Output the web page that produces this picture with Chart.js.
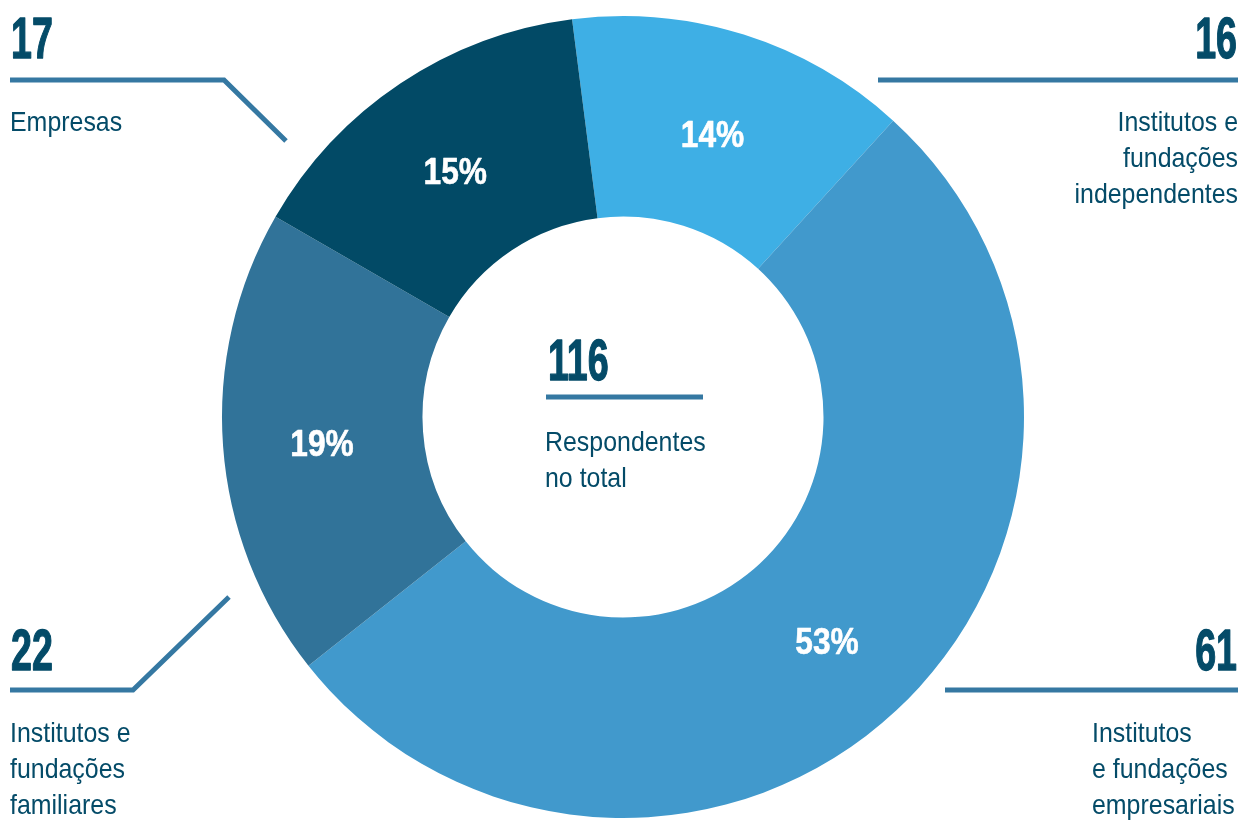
<!DOCTYPE html>
<html lang="pt">
<head>
  <meta charset="UTF-8">
  <title>Respondentes por tipo</title>
  <script src="https://cdn.jsdelivr.net/npm/chart.js"></script>
  <style>
    body { margin: 0; background: #fff; }
    #wrap { width: 1242px; height: 821px; position: relative; }
  </style>
</head>
<body>
  <div id="wrap"><canvas id="donut"></canvas></div>
  <script>
    // dados
    const categories = ['Institutos e fundações independentes', 'Institutos e fundações empresariais', 'Institutos e fundações familiares', 'Empresas'];
    const counts = [16, 61, 22, 17];
    const labelLines = [
      ['Institutos e', 'fundações', 'independentes'],
      ['Institutos', 'e fundações', 'empresariais'],
      ['Institutos e', 'fundações', 'familiares'],
      ['Empresas']
    ];
    const colors = ['#3eafe5', '#4199cc', '#317399', '#024a66'];
    const totalLabel = ['Respondentes', 'no total'];

    const total = counts.reduce((a, b) => a + b, 0);
    const dark = '#044b68';
    const lineColor = '#3578a2';
    const FONT = '"Liberation Sans", Arial, sans-serif';

    // texto "condensado": fonte normal comprimida na horizontal
    function txt(ctx, s, x, y, size, weight, align, color, sx, stroke) {
      ctx.save();
      ctx.font = weight + ' ' + size + 'px ' + FONT;
      ctx.fillStyle = color;
      ctx.textAlign = align;
      ctx.textBaseline = 'alphabetic';
      ctx.translate(x, y);
      ctx.scale(sx, 1);
      ctx.fillText(s, 0, 0);
      if (stroke) {
        ctx.strokeStyle = color;
        ctx.lineWidth = stroke;
        ctx.lineJoin = 'round';
        ctx.strokeText(s, 0, 0);
      }
      ctx.restore();
    }
    const big = (ctx, s, x, y, align) => txt(ctx, s, x, y, 57, 'bold', align, dark, 0.66, 1.3);
    const small = (ctx, s, x, y, align) => txt(ctx, s, x, y, 28, 'normal', align, dark, 0.89);

    function line(ctx, pts) {
      ctx.save();
      ctx.strokeStyle = lineColor;
      ctx.lineWidth = 5;
      ctx.beginPath();
      ctx.moveTo(pts[0][0], pts[0][1]);
      for (let i = 1; i < pts.length; i++) ctx.lineTo(pts[i][0], pts[i][1]);
      ctx.stroke();
      ctx.restore();
    }

    const annotations = {
      id: 'annotations',
      afterDraw(chart) {
        const ctx = chart.ctx;
        const meta = chart.getDatasetMeta(0);

        // percentuais nos arcos
        meta.data.forEach((arc, i) => {
          const p = arc.tooltipPosition();
          const pct = Math.round(counts[i] / total * 100) + '%';
          txt(ctx, pct, p.x - 1, p.y + 17, 36, 'bold', 'center', '#fff', 0.88, 0.6);
        });

        // centro
        const c = meta.data[0];
        big(ctx, String(total), c.x - 75, 380, 'left');
        line(ctx, [[c.x - 77, 397], [c.x + 80, 397]]);
        totalLabel.forEach((s, k) => small(ctx, s, c.x - 78, 451 + k * 36, 'left'));

        // independentes (topo direita)
        big(ctx, String(counts[0]), 1237, 58, 'right');
        line(ctx, [[878, 80], [1238, 80]]);
        labelLines[0].forEach((s, k) => small(ctx, s, 1238, 131 + k * 36, 'right'));

        // empresariais (baixo direita)
        big(ctx, String(counts[1]), 1237, 670, 'right');
        line(ctx, [[945, 690], [1238, 690]]);
        labelLines[1].forEach((s, k) => small(ctx, s, 1092, 742 + k * 36, 'left'));

        // familiares (baixo esquerda)
        big(ctx, String(counts[2]), 11, 670, 'left');
        line(ctx, [[229, 597], [133, 690], [10, 690]]);
        labelLines[2].forEach((s, k) => small(ctx, s, 10, 742 + k * 36, 'left'));

        // empresas (topo esquerda)
        big(ctx, String(counts[3]), 11, 58, 'left');
        line(ctx, [[10, 80], [224, 80], [286, 141]]);
        labelLines[3].forEach((s, k) => small(ctx, s, 10, 131 + k * 36, 'left'));
      }
    };

    new Chart(document.getElementById('donut'), {
      type: 'doughnut',
      data: {
        labels: categories,
        datasets: [{
          data: counts,
          backgroundColor: colors,
          borderWidth: 0
        }]
      },
      options: {
        responsive: true,
        maintainAspectRatio: false,
        animation: false,
        cutout: '50%',
        rotation: -7.3,
        layout: { padding: { left: 222, right: 218, top: 16, bottom: 3 } },
        plugins: {
          legend: { display: false },
          tooltip: { enabled: false }
        }
      },
      plugins: [annotations]
    });
  </script>
</body>
</html>
